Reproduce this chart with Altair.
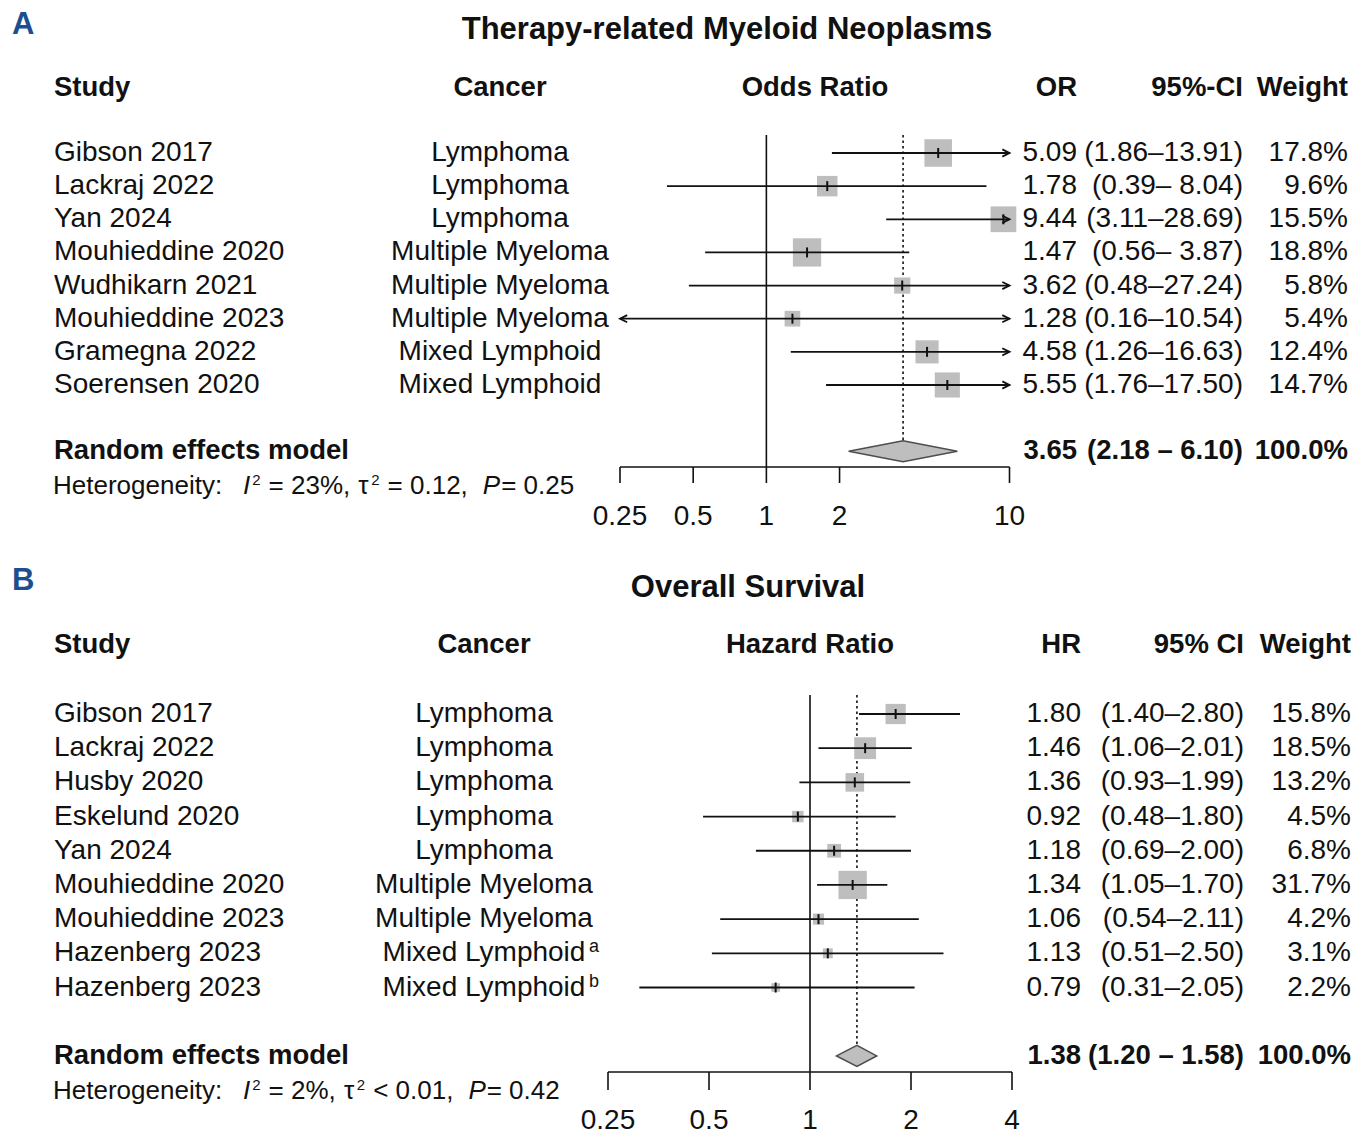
import altair as alt
import pandas as pd

# ---------------- Panel A: Therapy-related Myeloid Neoplasms ----------------
title_a = "Therapy-related Myeloid Neoplasms"
studies_a = ["Gibson 2017", "Lackraj 2022", "Yan 2024", "Mouhieddine 2020",
             "Wudhikarn 2021", "Mouhieddine 2023", "Gramegna 2022", "Soerensen 2020"]
cancer_a = ["Lymphoma", "Lymphoma", "Lymphoma", "Multiple Myeloma",
            "Multiple Myeloma", "Multiple Myeloma", "Mixed Lymphoid", "Mixed Lymphoid"]
sup_a = ["", "", "", "", "", "", "", ""]
est_a = [5.09, 1.78, 9.44, 1.47, 3.62, 1.28, 4.58, 5.55]
lo_a = [1.86, 0.39, 3.11, 0.56, 0.48, 0.16, 1.26, 1.76]
hi_a = [13.91, 8.04, 28.69, 3.87, 27.24, 10.54, 16.63, 17.50]
weight_a = [17.8, 9.6, 15.5, 18.8, 5.8, 5.4, 12.4, 14.7]
pooled_a = [3.65, 2.18, 6.10]
ticks_a = [0.25, 0.5, 1, 2, 10]
tick_labels_a = ["0.25", "0.5", "1", "2", "10"]
headers_a = ["Study", "Cancer", "Odds Ratio", "OR", "95%-CI", "Weight"]
het_a = ["Heterogeneity:", "I", "2", "= 23%,", "τ", "2", "= 0.12,", "P", "= 0.25"]

# ---------------- Panel B: Overall Survival ----------------
title_b = "Overall Survival"
studies_b = ["Gibson 2017", "Lackraj 2022", "Husby 2020", "Eskelund 2020", "Yan 2024",
             "Mouhieddine 2020", "Mouhieddine 2023", "Hazenberg 2023", "Hazenberg 2023"]
cancer_b = ["Lymphoma", "Lymphoma", "Lymphoma", "Lymphoma", "Lymphoma",
            "Multiple Myeloma", "Multiple Myeloma", "Mixed Lymphoid", "Mixed Lymphoid"]
sup_b = ["", "", "", "", "", "", "", "a", "b"]
est_b = [1.80, 1.46, 1.36, 0.92, 1.18, 1.34, 1.06, 1.13, 0.79]
lo_b = [1.40, 1.06, 0.93, 0.48, 0.69, 1.05, 0.54, 0.51, 0.31]
hi_b = [2.80, 2.01, 1.99, 1.80, 2.00, 1.70, 2.11, 2.50, 2.05]
weight_b = [15.8, 18.5, 13.2, 4.5, 6.8, 31.7, 4.2, 3.1, 2.2]
pooled_b = [1.38, 1.20, 1.58]
ticks_b = [0.25, 0.5, 1, 2, 4]
tick_labels_b = ["0.25", "0.5", "1", "2", "4"]
headers_b = ["Study", "Cancer", "Hazard Ratio", "HR", "95% CI", "Weight"]
het_b = ["Heterogeneity:", "I", "2", "= 2%,", "τ", "2", "< 0.01,", "P", "= 0.42"]

# style of each heterogeneity segment: n normal, i italic, s superscript
het_styles = ["n", "i", "s", "n", "n", "s", "n", "i", "n"]
# gap (px) placed before each segment
het_gaps = [0, 21, 2, 8, 8, 1, 8, 15, 1]

FONT = "Liberation Sans"
INK = "#111111"
GREY = "#bebebe"
BLUE = "#1d4f8f"

# approximate advance widths (em) of Liberation Sans, for laying out text runs
ADV = {" ": 0.278, ".": 0.278, ",": 0.278, ":": 0.278, "=": 0.584, "<": 0.584, "%": 0.889,
       "H": 0.722, "e": 0.556, "t": 0.278, "r": 0.333, "o": 0.556, "g": 0.556, "n": 0.556,
       "i": 0.222, "y": 0.5, "I": 0.278, "P": 0.667, "τ": 0.46}


def text_width(s, size):
    return sum(ADV.get(c, 0.556) for c in s) * size


# ---------------- layout (pixels) ----------------
layout_a = dict(letter="A", xmin=0.25, xmax=10, xrange=[620, 1009.5], y0=153, dy=33.14,
                title_y=30, title_x=727, letter_y=25, header_y=88, top_y=135,
                axis_y=467, tick_len=16, label_y=517, het_y=486,
                col_cancer=500, col_plot=815, col_est=1077, col_ci=1243, col_w=1348,
                sup_x=606, size_dom=[0, 20], size_rng=[22, 850], pooled_sep=" – ")
layout_b = dict(letter="B", xmin=0.25, xmax=4, xrange=[608, 1012], y0=714, dy=34.19,
                title_y=588, title_x=748, letter_y=581, header_y=645, top_y=695,
                axis_y=1072, tick_len=18, label_y=1121, het_y=1091,
                col_cancer=484, col_plot=810, col_est=1081, col_ci=1244, col_w=1351,
                sup_x=589, size_dom=[0, 40], size_rng=[21, 1005], pooled_sep=" – ")

BODY = 28
HEAD = 27.5
HET = 26
SUP = 15


def panel(title, studies, cancers, sups, est, lo, hi, weights, pooled, ticks, tick_labels,
          headers, het, L):
    n = len(studies)
    y0, dy = L["y0"], L["dy"]

    def r(px):
        return (px - y0) / dy

    xs = alt.Scale(type="log", domain=[L["xmin"], L["xmax"]], range=L["xrange"])
    ys = alt.Scale(domain=[0, n - 1], range=[y0, y0 + (n - 1) * dy], nice=False, zero=False)
    Y = alt.Y("row:Q", scale=ys, axis=None)

    hw = max(len(f"{h:.2f}") for h in hi)
    df = pd.DataFrame({
        "study": studies, "cancer": cancers, "sup": sups, "est": est, "lo": lo, "hi": hi,
        "w": weights,
    })
    df["row"] = list(range(n))
    df["lo_c"] = df["lo"].clip(lower=L["xmin"])
    df["hi_c"] = df["hi"].clip(upper=L["xmax"])
    df["est_t"] = [f"{v:.2f}" for v in est]
    df["ci_t"] = [f"({a:.2f}–{b:{hw}.2f})" for a, b in zip(lo, hi)]
    df["w_t"] = [f"{v:.1f}%" for v in weights]

    rrow = n + 1
    dh = 10.5 / dy
    layers = []

    # reference line at 1 and dotted line at pooled estimate
    layers.append(alt.Chart(pd.DataFrame({"x": [1.0], "row": [r(L["top_y"])], "row2": [r(L["axis_y"])]}))
                  .mark_rule(color=INK, strokeWidth=1.6)
                  .encode(x=alt.X("x:Q", scale=xs, axis=None), y=Y, y2="row2:Q"))
    layers.append(alt.Chart(pd.DataFrame({"x": [pooled[0]], "row": [r(L["top_y"])], "row2": [rrow - dh]}))
                  .mark_rule(color=INK, strokeWidth=1.6, strokeDash=[2.5, 3])
                  .encode(x=alt.X("x:Q", scale=xs, axis=None), y=Y, y2="row2:Q"))

    # squares sized by weight
    layers.append(alt.Chart(df).mark_square(color=GREY, opacity=1)
                  .encode(x=alt.X("est:Q", scale=xs, axis=None), y=Y,
                          size=alt.Size("w:Q", scale=alt.Scale(domain=L["size_dom"], range=L["size_rng"], zero=False),
                                        legend=None)))
    # CI lines
    layers.append(alt.Chart(df).mark_rule(color=INK, strokeWidth=1.8)
                  .encode(x=alt.X("lo_c:Q", scale=xs, axis=None), x2="hi_c:Q", y=Y))
    # arrows for truncated CIs
    right = df[df["hi"] > L["xmax"]]
    left = df[df["lo"] < L["xmin"]]
    if len(right):
        layers.append(alt.Chart(right).mark_point(shape="M-1.8,-0.9L0,0L-1.8,0.9", filled=False, size=64,
                                                  color=INK, strokeWidth=1.8, opacity=1)
                      .encode(x=alt.X("hi_c:Q", scale=xs, axis=None), y=Y))
    if len(left):
        layers.append(alt.Chart(left).mark_point(shape="M1.8,-0.9L0,0L1.8,0.9", filled=False, size=64,
                                                 color=INK, strokeWidth=1.8, opacity=1)
                      .encode(x=alt.X("lo_c:Q", scale=xs, axis=None), y=Y))
    # estimate ticks
    layers.append(alt.Chart(df).mark_tick(orient="vertical", size=10, thickness=2, color=INK, opacity=1)
                  .encode(x=alt.X("est:Q", scale=xs, axis=None), y=Y))
    # pooled diamond
    dia = pd.DataFrame({"x": [pooled[1], pooled[0], pooled[2]],
                        "row": [rrow, rrow - dh, rrow], "row2": [rrow, rrow + dh, rrow]})
    layers.append(alt.Chart(dia).mark_area(orient="vertical", fill=GREY, stroke="#4d4d4d", strokeWidth=1.6,
                                           opacity=1)
                  .encode(x=alt.X("x:Q", scale=xs, axis=None), y=Y, y2="row2:Q"))
    # axis
    layers.append(alt.Chart(pd.DataFrame({"x": [L["xmin"]], "x2": [L["xmax"]], "row": [r(L["axis_y"])]}))
                  .mark_rule(color=INK, strokeWidth=1.6)
                  .encode(x=alt.X("x:Q", scale=xs, axis=None), x2="x2:Q", y=Y))
    tk = pd.DataFrame({"x": ticks, "lab": tick_labels, "row": r(L["axis_y"]),
                       "row2": r(L["axis_y"] + L["tick_len"]), "lrow": r(L["label_y"])})
    layers.append(alt.Chart(tk).mark_rule(color=INK, strokeWidth=1.6)
                  .encode(x=alt.X("x:Q", scale=xs, axis=None), y=Y, y2="row2:Q"))
    layers.append(alt.Chart(tk).mark_text(font=FONT, fontSize=BODY, color=INK, align="center", baseline="middle")
                  .encode(x=alt.X("x:Q", scale=xs, axis=None), y=alt.Y("lrow:Q", scale=ys, axis=None),
                          text="lab:N"))

    def txt(frame, field, x, align, size=BODY, bold=False, italic=False, color=INK):
        return (alt.Chart(frame)
                .mark_text(align=align, baseline="middle", font=FONT, fontSize=size,
                           fontWeight="bold" if bold else "normal",
                           fontStyle="italic" if italic else "normal", color=color)
                .encode(x=alt.value(x), y=Y, text=f"{field}:N"))

    # study rows
    layers.append(txt(df, "study", 54, "left"))
    layers.append(txt(df, "cancer", L["col_cancer"], "center"))
    layers.append(txt(df, "est_t", L["col_est"], "right"))
    layers.append(txt(df, "ci_t", L["col_ci"], "right"))
    layers.append(txt(df, "w_t", L["col_w"], "right"))
    sp = df[df["sup"] != ""].copy()
    if len(sp):
        sp["row"] = sp["row"] - 6 / dy
        layers.append(txt(sp, "sup", L["sup_x"], "left", size=18))

    # headers
    hx = [(54, "left"), (L["col_cancer"], "center"), (L["col_plot"], "center"),
          (L["col_est"], "right"), (L["col_ci"], "right"), (L["col_w"], "right")]
    for (x, al), h in zip(hx, headers):
        layers.append(txt(pd.DataFrame({"row": [r(L["header_y"])], "t": [h]}), "t", x, al, size=HEAD, bold=True))

    # random effects row
    rf = pd.DataFrame({"row": [rrow], "lab": ["Random effects model"], "e": [f"{pooled[0]:.2f}"],
                       "ci": [f"({pooled[1]:.2f}{L['pooled_sep']}{pooled[2]:.2f})"], "w": [f"{100:.1f}%"]})
    layers.append(txt(rf, "lab", 54, "left", size=HEAD, bold=True))
    layers.append(txt(rf, "e", L["col_est"], "right", size=HEAD, bold=True))
    layers.append(txt(rf, "ci", L["col_ci"], "right", size=HEAD, bold=True))
    layers.append(txt(rf, "w", L["col_w"], "right", size=HEAD, bold=True))

    # heterogeneity line, laid out as a run of styled pieces
    x = 53.0
    for seg, st, gap in zip(het, het_styles, het_gaps):
        x += gap
        if st == "s":
            fr = pd.DataFrame({"row": [r(L["het_y"] - 6)], "t": [seg]})
            layers.append(txt(fr, "t", round(x, 1), "left", size=SUP))
            x += text_width(seg, SUP)
        else:
            fr = pd.DataFrame({"row": [r(L["het_y"])], "t": [seg]})
            layers.append(txt(fr, "t", round(x, 1), "left", size=HET, italic=(st == "i")))
            x += text_width(seg, HET)

    # title and panel letter
    layers.append(txt(pd.DataFrame({"row": [r(L["title_y"])], "t": [title]}), "t", L["title_x"], "center",
                      size=31, bold=True))
    layers.append(txt(pd.DataFrame({"row": [r(L["letter_y"])], "t": [L["letter"]]}), "t", 12, "left",
                      size=31, bold=True, color=BLUE))

    return alt.layer(*layers)


pa = panel(title_a, studies_a, cancer_a, sup_a, est_a, lo_a, hi_a, weight_a, pooled_a, ticks_a,
           tick_labels_a, headers_a, het_a, layout_a)
pb = panel(title_b, studies_b, cancer_b, sup_b, est_b, lo_b, hi_b, weight_b, pooled_b, ticks_b,
           tick_labels_b, headers_b, het_b, layout_b)

chart = (alt.layer(pa, pb)
         .resolve_scale(x="independent", y="independent", size="independent")
         .properties(width=1356, height=1136, padding=0,
                     autosize=alt.AutoSizeParams(type="none"), background="white")
         .configure_view(stroke=None))

chart.save("out.html", embed_options={"renderer": "svg", "actions": False})
